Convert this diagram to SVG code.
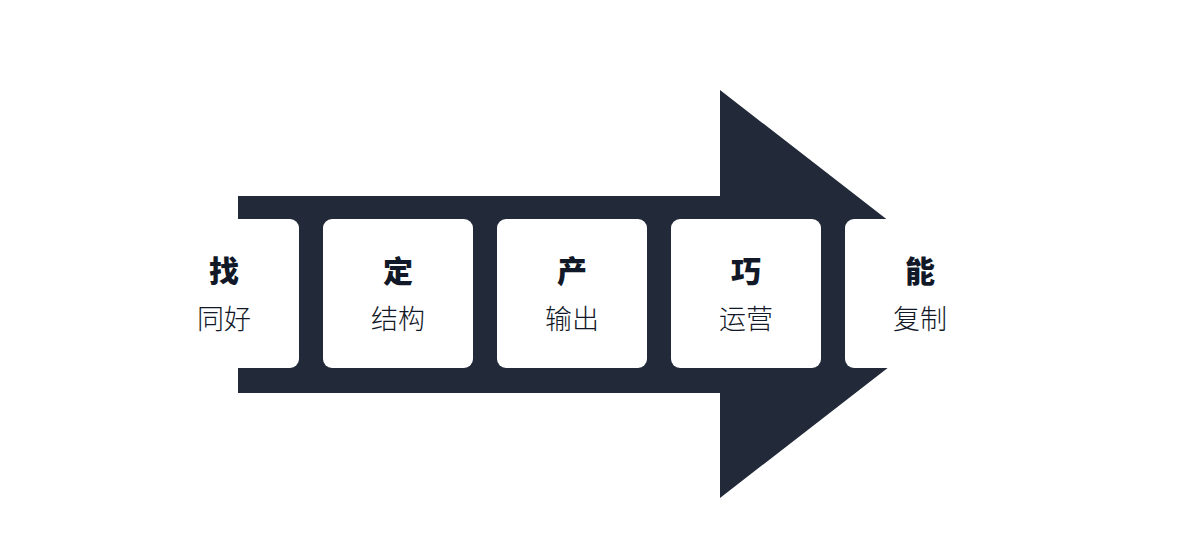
<svg xmlns="http://www.w3.org/2000/svg" width="1180" height="540" viewBox="0 0 1180 540">
<style>
.arrow{fill:#222a39}
.box{fill:#ffffff}
.t1{font-family:"Noto Sans CJK SC","Noto Sans",sans-serif;font-weight:900;font-size:30px;fill:#111827;text-anchor:middle}
.t2{font-family:"Noto Sans CJK SC","Noto Sans",sans-serif;font-weight:300;font-size:27px;fill:#111827;text-anchor:middle}
</style>
<rect width="1180" height="540" fill="#ffffff"/>
<g id="connectors">
<path class="arrow" d="M238 196 H720 V90 L983 294 L720 498 V393 H238 Z"/>
</g>
<g id="node-1">
<rect class="box" x="149" y="219" width="150" height="149" rx="9"/>
<text class="t1" x="224" y="282">找</text>
<text class="t2" x="224" y="329">同好</text>
</g>
<g id="node-2">
<rect class="box" x="323" y="219" width="150" height="149" rx="9"/>
<text class="t1" x="398" y="282">定</text>
<text class="t2" x="398" y="329">结构</text>
</g>
<g id="node-3">
<rect class="box" x="497" y="219" width="150" height="149" rx="9"/>
<text class="t1" x="572" y="282">产</text>
<text class="t2" x="572" y="329">输出</text>
</g>
<g id="node-4">
<rect class="box" x="671" y="219" width="150" height="149" rx="9"/>
<text class="t1" x="746" y="282">巧</text>
<text class="t2" x="746" y="329">运营</text>
</g>
<g id="node-5">
<rect class="box" x="845" y="219" width="150" height="149" rx="9"/>
<text class="t1" x="920" y="282">能</text>
<text class="t2" x="920" y="329">复制</text>
</g>
</svg>
